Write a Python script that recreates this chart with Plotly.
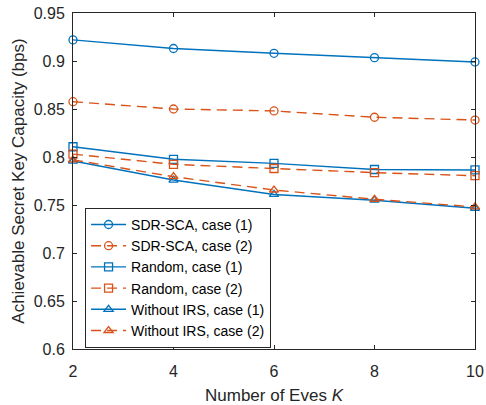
import plotly.graph_objects as go

K = [2, 4, 6, 8, 10]
sdr_case1 = [0.922, 0.913, 0.908, 0.9035, 0.899]
sdr_case2 = [0.8576, 0.850, 0.848, 0.8414, 0.8385]
rand_case1 = [0.8107, 0.7976, 0.7934, 0.787, 0.7865]
rand_case2 = [0.803, 0.7924, 0.788, 0.7837, 0.7805]
noirs_case1 = [0.7958, 0.776, 0.761, 0.755, 0.7466]
noirs_case2 = [0.797, 0.7795, 0.7656, 0.756, 0.748]

names = ["SDR-SCA, case (1)", "SDR-SCA, case (2)", "Random, case (1)",
         "Random, case (2)", "Without IRS, case (1)", "Without IRS, case (2)"]
series = [sdr_case1, sdr_case2, rand_case1, rand_case2, noirs_case1, noirs_case2]
symbols = ["circle-open", "circle-open", "square-open", "square-open",
           "triangle-up-open", "triangle-up-open"]
BLUE = "#0072BD"
ORANGE = "#D95319"
FONT = "Liberation Sans, Arial, sans-serif"
TXT = "#262626"

fig = go.Figure()
for i, (nm, ys, sym) in enumerate(zip(names, series, symbols)):
    c = BLUE if i % 2 == 0 else ORANGE
    dash = "solid" if i % 2 == 0 else "10px,6px"
    fig.add_trace(go.Scatter(
        x=K, y=ys, name=nm, mode="lines+markers",
        line=dict(color=c, width=1.4, dash=dash),
        marker=dict(symbol=sym, size=8, color=c, line=dict(color=c, width=1.3)),
        cliponaxis=False,
    ))

axis_common = dict(
    showgrid=False, zeroline=False, showline=True, linecolor=TXT,
    linewidth=1, mirror="ticks", ticks="inside", ticklen=4, tickcolor=TXT,
    tickfont=dict(family=FONT, size=16, color=TXT),
    automargin=False,
)

fig.update_xaxes(range=[2, 10], tickvals=[2, 4, 6, 8, 10],
                 ticklabelstandoff=8,
                 title=dict(text="Number of Eves <i>K</i>",
                            font=dict(family=FONT, size=17, color=TXT),
                            standoff=9),
                 **axis_common)
fig.update_yaxes(range=[0.6, 0.95],
                 tickvals=[0.6, 0.65, 0.7, 0.75, 0.8, 0.85, 0.9, 0.95],
                 ticktext=["0.6", "0.65", "0.7", "0.75", "0.8", "0.85", "0.9", "0.95"],
                 ticklabelstandoff=4,
                 title=dict(text="Achievable Secret Key Capacity (bps)",
                            font=dict(family=FONT, size=17, color=TXT),
                            standoff=4),
                 **axis_common)

fig.update_layout(
    width=486, height=405,
    margin=dict(l=73, r=11, t=13, b=56),
    paper_bgcolor="white", plot_bgcolor="white",
    showlegend=True,
    legend=dict(
        x=0.03, y=0.42, xanchor="left", yanchor="top",
        bgcolor="white", bordercolor=TXT, borderwidth=1,
        font=dict(family=FONT, size=14, color="#000000"),
        tracegroupgap=0, itemwidth=35,
    ),
)

fig.write_html("out.html", config={"displayModeBar": False},
               post_script="document.body.style.margin='0';")
